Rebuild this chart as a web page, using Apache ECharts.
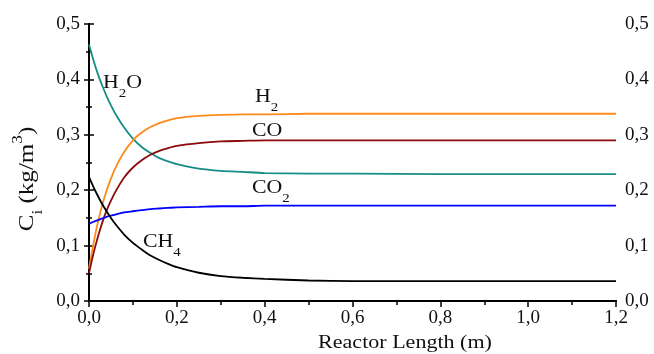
<!DOCTYPE html>
<html>
<head>
<meta charset="utf-8">
<script src="https://cdn.jsdelivr.net/npm/echarts@6/dist/echarts.min.js"></script>
<style>html,body{margin:0;padding:0;background:#fff;}#c{width:654px;height:354px;}</style>
</head>
<body>
<div id="c"></div>
<script>
// ---- data ----
const xs   = [0, 0.01, 0.02, 0.03, 0.04, 0.05, 0.06, 0.08, 0.10, 0.12, 0.14, 0.16, 0.18, 0.20, 0.25, 0.30, 0.35, 0.40, 0.50, 0.60, 0.80, 1.00, 1.20];
const h2o  = [0.463, 0.435, 0.410, 0.389, 0.370, 0.353, 0.338, 0.313, 0.293, 0.278, 0.267, 0.258, 0.252, 0.247, 0.239, 0.235, 0.233, 0.231, 0.230, 0.230, 0.229, 0.229, 0.229];
const h2   = [0.058, 0.103, 0.141, 0.173, 0.199, 0.221, 0.240, 0.269, 0.290, 0.304, 0.314, 0.321, 0.326, 0.330, 0.334, 0.336, 0.337, 0.337, 0.338, 0.338, 0.338, 0.338, 0.338];
const co   = [0.050, 0.085, 0.115, 0.141, 0.163, 0.181, 0.197, 0.223, 0.241, 0.254, 0.264, 0.271, 0.276, 0.280, 0.285, 0.288, 0.289, 0.290, 0.290, 0.290, 0.290, 0.290, 0.290];
const co2  = [0.139, 0.143, 0.146, 0.149, 0.152, 0.154, 0.156, 0.160, 0.162, 0.164, 0.166, 0.167, 0.168, 0.169, 0.170, 0.171, 0.171, 0.172, 0.172, 0.172, 0.172, 0.172, 0.172];
const ch4  = [0.224, 0.206, 0.190, 0.175, 0.162, 0.150, 0.139, 0.120, 0.105, 0.093, 0.082, 0.074, 0.067, 0.061, 0.051, 0.045, 0.042, 0.040, 0.037, 0.036, 0.036, 0.036, 0.036];

const xMin = 0, xMax = 1.2, xStep = 0.2;
const yMin = 0, yMax = 0.5, yStep = 0.1;

const seriesNames  = ['H2O', 'H2', 'CO', 'CO2', 'CH4'];
const seriesValues = [h2o, h2, co, co2, ch4];
const seriesColors = ['#178d87', '#ff8a1c', '#8b0a0a', '#0000ff', '#000000'];

// label parts: [text, kind] kind: n normal, s subscript, p superscript
const curveLabels = [
  {x: 103, y: 83,  parts: [['H','n'],['2','s'],['O','n']]},
  {x: 255, y: 97,  parts: [['H','n'],['2','s']]},
  {x: 252, y: 131, parts: [['CO','n']]},
  {x: 252, y: 188, parts: [['CO','n'],['2','s']]},
  {x: 143, y: 242, parts: [['CH','n'],['4','s']]}
];

const FONT = '"Liberation Serif", "Times New Roman", serif';
const ctx = document.createElement('canvas').getContext('2d');
function measure(t, size) { ctx.font = size + 'px ' + FONT; return ctx.measureText(t).width; }

function richGroup(parts, size, subSize, subOff, supOff) {
  const children = [];
  let cx = 0;
  parts.forEach(([t, k]) => {
    const fs = k === 'n' ? size : subSize;
    const dy = k === 's' ? subOff : (k === 'p' ? supOff : 0);
    children.push({type: 'text', x: cx, y: dy, silent: true,
      style: {text: t, fontSize: fs, fontFamily: FONT, fill: '#111', align: 'left', verticalAlign: 'middle'}});
    cx += measure(t, fs);
  });
  return {children, width: cx};
}

const graphics = [];
curveLabels.forEach(l => {
  const g = richGroup(l.parts, 19, 13, 11, -7);
  graphics.push({type: 'group', x: l.x, y: l.y, scaleX: 1.15, children: g.children});
});
// y axis title (rotated)
(function () {
  const g = richGroup([['C','n'],['i','s'],[' (kg/m','n'],['3','p'],[')','n']], 19, 13, 10, -8);
  g.children.forEach(c => { c.x -= g.width / 2; });
  graphics.push({type: 'group', x: 27, y: 179, rotation: Math.PI / 2, scaleX: 1.32, scaleY: 1.12, children: g.children});
})();
// x axis title
graphics.push({type: 'text', x: 405, y: 343, scaleX: 1.16,
  style: {text: 'Reactor Length (m)', fontSize: 19, fontFamily: FONT, fill: '#111', align: 'center', verticalAlign: 'middle'}});

const fmt = v => v.toFixed(1).replace('.', ',');
const axisLine = {show: true, lineStyle: {color: '#000', width: 2}};
const lbl = {fontSize: 19, fontFamily: FONT, color: '#111', formatter: fmt};

const chart = echarts.init(document.getElementById('c'), null, {renderer: 'canvas'});
chart.setOption({
  animation: false,
  backgroundColor: '#fff',
  grid: {left: 89, right: 38, top: 24, bottom: 53, containLabel: false},
  xAxis: [
    {type: 'value', min: xMin, max: xMax, interval: xStep, position: 'bottom',
     axisLine, axisTick: {show: true, length: 6, lineStyle: {color: '#000', width: 1.5}},
     minorTick: {show: true, splitNumber: 2, length: 4, lineStyle: {color: '#000', width: 1.5}},
     axisLabel: Object.assign({margin: 8}, lbl), splitLine: {show: false}},
    {type: 'value', min: xMin, max: xMax, interval: xStep, position: 'top',
     axisLine, axisTick: {show: false}, axisLabel: {show: false}, splitLine: {show: false}}
  ],
  yAxis: [
    {type: 'value', min: yMin, max: yMax, interval: yStep, position: 'left',
     axisLine, axisTick: {show: true, length: 5, lineStyle: {color: '#000', width: 1.5}},
     minorTick: {show: true, splitNumber: 2, length: 3, lineStyle: {color: '#000', width: 1.5}},
     axisLabel: Object.assign({margin: 9}, lbl), splitLine: {show: false}},
    {type: 'value', min: yMin, max: yMax, interval: yStep, position: 'right',
     axisLine, axisTick: {show: true, length: 5, lineStyle: {color: '#000', width: 1.5}},
     minorTick: {show: true, splitNumber: 2, length: 3, lineStyle: {color: '#000', width: 1.5}},
     axisLabel: Object.assign({margin: 9}, lbl), splitLine: {show: false}}
  ],
  series: seriesNames.map((n, i) => ({
    name: n, type: 'line', xAxisIndex: 0, yAxisIndex: 0,
    data: xs.map((x, j) => [x, seriesValues[i][j]]),
    smooth: 0.25, showSymbol: false, symbol: 'none',
    lineStyle: {color: seriesColors[i], width: 1.8}, z: 3
  })),
  graphic: graphics
});
</script>
</body>
</html>
